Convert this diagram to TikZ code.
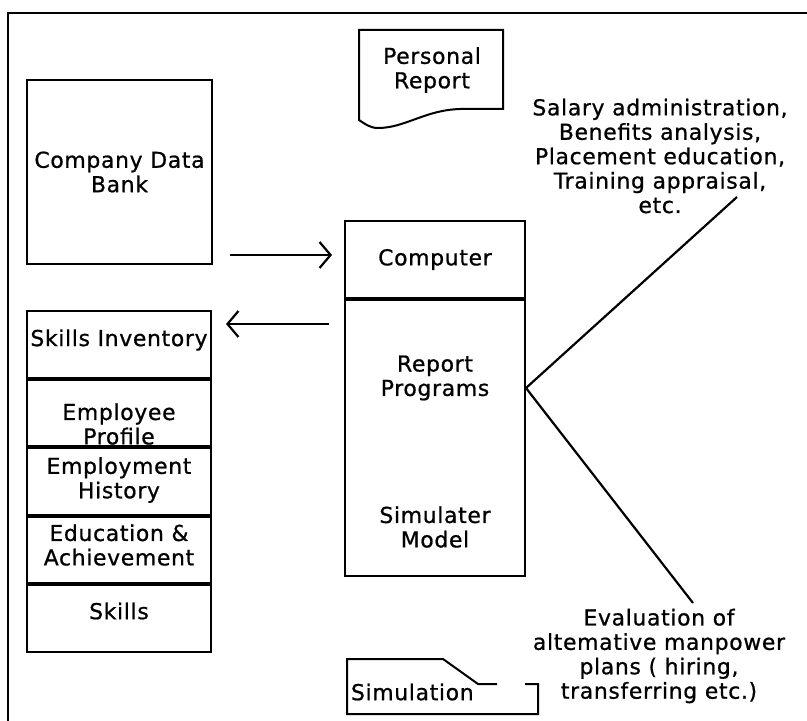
\documentclass[tikz,border=0pt]{standalone}
\usepackage{fontspec}
\setmainfont{DejaVu Sans}[LetterSpace=3,FakeBold=0.8]
\usetikzlibrary{arrows.meta}
\begin{document}
\begin{tikzpicture}[x=1bp,y=-1bp,
  line width=2bp,
  box/.style={draw, rectangle, inner sep=0pt},
  txt/.style={align=center, font=\fontsize{22}{24.5}\selectfont, inner sep=0pt},
  link/.style={line width=2.2bp},
  arr/.style={line width=2.2bp, -{Straight Barb[length=11bp,width=26bp,line width=2.2bp]}},
]
\useasboundingbox (0,0) rectangle (807,721);

% outer frame (top and left edges only)
\draw (807,13) -- (8,13) -- (8,721);

% company data bank
\node[box, minimum width=185bp, minimum height=184bp] (bank) at (119.5,172) {};
\node[txt] (banktxt) at (119.5,172) {Company Data\\Bank};

% personal report document
\draw (359,30) -- (503,30) -- (503,109) -- (460,109)
  .. controls (425,110) and (405,128) .. (378,128)
  .. controls (370,128) and (365,124) .. (359,120) -- cycle;
\node[txt] (report) at (432,70) {Personal\\Report};

% computer with its programs
\node[box, minimum width=180bp, minimum height=77bp] (comp) at (435,259.5) {};
\node[txt] at (comp.center) {Computer};
\node[box, minimum width=180bp, minimum height=276bp, anchor=north] (prog) at (comp.south) {};
\node[txt] (rp) at (435,378) {Report\\Programs};
\node[txt] (sm) at (435,527) {Simulater\\Model};

% skills inventory stack
\node[box, minimum width=184bp, minimum height=66.6bp] (r1) at (119,344.3) {};
\node[box, minimum width=184bp, minimum height=66.6bp, anchor=north] (r2) at (r1.south) {};
\node[box, minimum width=184bp, minimum height=66.6bp, anchor=north] (r3) at (r2.south) {};
\node[box, minimum width=184bp, minimum height=66.6bp, anchor=north] (r4) at (r3.south) {};
\node[box, minimum width=184bp, minimum height=66.6bp, anchor=north] (r5) at (r4.south) {};
\node[txt] (t1) at (119,340) {Skills Inventory};
\node[txt] (t2) at (119,424) {Employee\\Profile};
\node[txt] (t3) at (119,480) {Employment\\History};
\node[txt] (t4) at (119,545) {Education \&\\Achievement};
\node[txt] (t5) at (119,611) {Skills};

% data flow arrows
\coordinate (inA) at (bank.east |- 0,255);
\coordinate (inB) at (comp.west |- 0,255);
\draw[arr, shorten <=17bp, shorten >=12bp] (inA) -- (inB);
\coordinate (outA) at (comp.west |- 0,324);
\coordinate (outB) at (r1.east |- 0,324);
\draw[arr, shorten <=15bp, shorten >=14bp] (outA) -- (outB);

% outputs of the report programs
\node[txt] (uses) at (660,156) {Salary administration,\\Benefits analysis,\\Placement education,\\Training appraisal,\\etc.};
\node[txt] (plans) at (659,656) {Evaluation of\\altemative manpower\\plans ( hiring,\\transferring etc.)};
\coordinate (hub) at (prog.east |- 0,388);
\coordinate (usesEnd) at (737,197);
\coordinate (plansEnd) at (693,603);
\draw[link] (hub) -- (usesEnd);
\draw[link] (hub) -- (plansEnd);

% simulation output document
\draw (525,684) -- (538,684) -- (538,714) -- (347,714) -- (347,659)
  -- (443,659) -- (478,684) -- (497,684);
\node[txt, anchor=west] (sim) at (350,692) {Simulation};
\end{tikzpicture}
\end{document}
